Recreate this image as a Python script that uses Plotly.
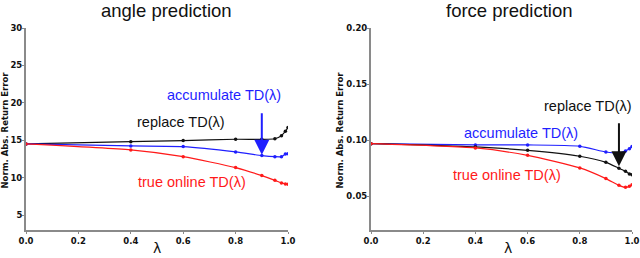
import plotly.graph_objects as go

lam = [0.0, 0.4, 0.6, 0.8, 0.9, 0.95, 0.975, 0.99, 1.0]

angle_replace = [14.5, 14.8, 14.95, 15.13, 15.12, 15.2, 15.6, 16.2, 16.7]
angle_accumulate = [14.5, 14.24, 14.15, 13.44, 12.95, 12.8, 12.8, 13.15, 13.2]
angle_true_online = [14.5, 13.7, 12.8, 11.34, 10.27, 9.64, 9.29, 9.15, 9.1]

force_accumulate = [0.0969, 0.0958, 0.0958, 0.0946, 0.0895, 0.0886, 0.0905, 0.0925, 0.0943]
force_replace = [0.0969, 0.094, 0.091, 0.0857, 0.0803, 0.075, 0.0723, 0.070, 0.0693]
force_true_online = [0.0969, 0.0931, 0.0865, 0.0753, 0.0658, 0.0598, 0.058, 0.0589, 0.0604]

x_ticks = [0.0, 0.2, 0.4, 0.6, 0.8, 1.0]
angle_ticks = [5, 10, 15, 20, 25, 30]
force_ticks = [0.05, 0.10, 0.15, 0.20]

titles = ["angle prediction", "force prediction"]
ylabel = "Norm. Abs. Return Error"
xlabel = "λ"
names = ["accumulate TD(λ)", "replace TD(λ)", "true online TD(λ)"]

BLACK = "#111111"
BLUE = "#1f1fff"
RED = "#ff1a1a"

fig = go.Figure()

def add(x, y, color, xa, ya):
    fig.add_trace(go.Scatter(x=x, y=y, mode="lines+markers", xaxis=xa, yaxis=ya,
                             line=dict(color=color, width=1.2, shape="spline", smoothing=0.6),
                             marker=dict(color=color, size=3.5), showlegend=False,
                             hoverinfo="skip"))

add(lam, angle_replace, BLACK, "x", "y")
add(lam, angle_accumulate, BLUE, "x", "y")
add(lam, angle_true_online, RED, "x", "y")
add(lam, force_accumulate, BLUE, "x2", "y2")
add(lam, force_replace, BLACK, "x2", "y2")
add(lam, force_true_online, RED, "x2", "y2")

W, H = 640, 258
def px(v):
    return v / W
def py(v):
    return (H - v) / H

axis_common = dict(showline=True, linecolor="#8a8a8a", linewidth=2, ticks="outside",
                   ticklen=2, tickcolor="#8a8a8a", showgrid=False, zeroline=False,
                   mirror=False, automargin=False,
                   tickfont=dict(family="DejaVu Sans", size=8.5, color="#111"))

def bold(vals, fmt):
    return ["<b>" + format(v, fmt) + "</b>" for v in vals]

fig.update_layout(
    width=W, height=H, margin=dict(l=0, r=0, t=0, b=0),
    paper_bgcolor="white", plot_bgcolor="white",
    xaxis=dict(domain=[px(26), px(288)], range=[0, 1], tickvals=x_ticks,
               ticktext=bold(x_ticks, ".1f"), anchor="y", **axis_common),
    yaxis=dict(domain=[py(230), py(28)], range=[3, 30], tickvals=angle_ticks,
               ticktext=bold(angle_ticks, "d"), anchor="x", ticklabelstandoff=-2,
               **axis_common),
    xaxis2=dict(domain=[px(371), px(632)], range=[0, 1], tickvals=x_ticks,
                ticktext=bold(x_ticks, ".1f"), anchor="y2", **axis_common),
    yaxis2=dict(domain=[py(230), py(28)], range=[0.02, 0.20], tickvals=force_ticks,
                ticktext=bold(force_ticks, ".2f"), anchor="x2", ticklabelstandoff=-2,
                **axis_common),
    font=dict(family="Liberation Sans"),
)

ann = []
C = dict(xanchor="center", yanchor="middle", showarrow=False)
# panel titles
ann.append(dict(text=titles[0], x=px(166), y=py(11), xref="paper", yref="paper",
                font=dict(size=18.5, color="#111"), **C))
ann.append(dict(text=titles[1], x=px(509), y=py(11), xref="paper", yref="paper",
                font=dict(size=18.5, color="#111"), **C))
# y titles
for xc in (4.5, 339.5):
    ann.append(dict(text="<b>" + ylabel + "</b>", x=px(xc), y=py(130), xref="paper", yref="paper",
                    textangle=-90, font=dict(family="DejaVu Sans", size=8.5, color="#111"), **C))
# x titles
for xc in (157, 508):
    ann.append(dict(text=xlabel, x=px(xc), y=py(248), xref="paper", yref="paper",
                    font=dict(family="DejaVu Sans", size=14, color="#111"), **C))

# left panel labels
ann.append(dict(text=names[0], x=0.757, y=21.0, xref="x", yref="y",
                font=dict(size=14.5, color=BLUE), **C))
ann.append(dict(text=names[1], x=0.593, y=17.43, xref="x", yref="y",
                font=dict(size=14.5, color=BLACK), **C))
ann.append(dict(text=names[2], x=0.635, y=9.41, xref="x", yref="y",
                font=dict(size=14.5, color=RED), **C))
ann.append(dict(text="", x=0.9, y=13.05, ax=0.9, ay=18.8, xref="x", yref="y",
                axref="x", ayref="y", showarrow=True, arrowhead=2, arrowsize=1.5,
                arrowwidth=2, arrowcolor=BLUE))
# right panel labels
ann.append(dict(text=names[0], x=0.575, y=0.1067, xref="x2", yref="y2",
                font=dict(size=14.5, color=BLUE), **C))
ann.append(dict(text=names[1], x=0.831, y=0.1307, xref="x2", yref="y2",
                font=dict(size=14.5, color=BLACK), **C))
ann.append(dict(text=names[2], x=0.521, y=0.0686, xref="x2", yref="y2",
                font=dict(size=14.5, color=RED), **C))
ann.append(dict(text="", x=0.95, y=0.0768, ax=0.95, ay=0.1165, xref="x2", yref="y2",
                axref="x2", ayref="y2", showarrow=True, arrowhead=2, arrowsize=1.5,
                arrowwidth=2, arrowcolor=BLACK))

fig.update_layout(annotations=ann)
fig.write_html("out.html", config={"displayModeBar": False},
               post_script="document.body.style.margin='0';")
